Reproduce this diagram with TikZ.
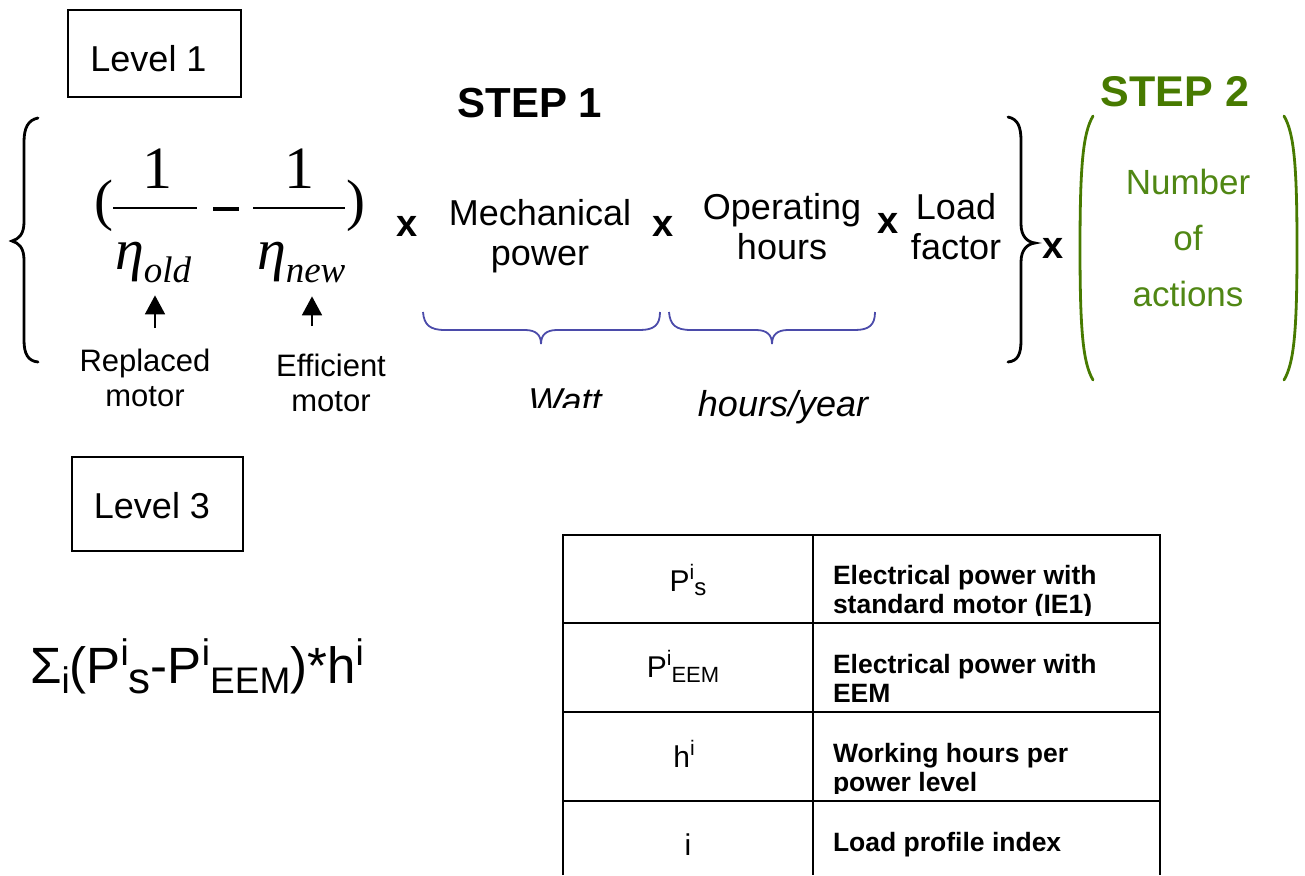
\documentclass[tikz,border=0pt]{standalone}
\usepackage{fontspec}
\setmainfont{Liberation Sans}
\newfontfamily\seriffont{Liberation Serif}
\usetikzlibrary{arrows.meta}
\definecolor{stepgreen}{RGB}{71,122,0}
\definecolor{actgreen}{RGB}{80,135,20}
\definecolor{braceblue}{RGB}{75,75,170}
\newcommand\fsz[2]{\fontsize{#1}{#2}\selectfont}
\newcommand\shiftx[3]{\raisebox{#1}{\fontsize{#2}{#2}\selectfont #3}}
\begin{document}
\begin{tikzpicture}[x=1pt,y=-1pt,
  every node/.style={inner sep=0pt, outer sep=0pt},
  lbl/.style={font=\fsz{36}{40}, align=center},
  smalllbl/.style={font=\fsz{31}{35}, align=center},
  timesx/.style={font=\fsz{38}{40}\bfseries},
  levelbox/.style={draw, line width=1.3pt, font=\fsz{36}{40}, text depth=0pt},
  blackbrace/.style={line width=2.8pt, line cap=round},
  greenparen/.style={draw=stepgreen, line width=2.8pt, line cap=round},
  bluebrace/.style={draw=braceblue, line width=1.8pt},
  uparrow/.style={line width=1.8pt, -{Triangle[width=20pt,length=19pt]}},
  serifbig/.style={font=\seriffont\fsz{60}{60}},
  fracbar/.style={line width=2pt},
  tabline/.style={line width=1.6pt},
  celltext/.style={font=\fsz{26.5}{29}\bfseries, anchor=base west},
  symtext/.style={font=\fsz{30}{32}, anchor=base}
]
\useasboundingbox (0,0) rectangle (1305,875);

% Level boxes
\node[levelbox, minimum width=173pt, minimum height=87pt, text height=35pt] (lev1) at (154.5,53.5) {Level 1\kern12pt};
\node[levelbox, minimum width=171pt, minimum height=94pt, text height=28pt] (lev3) at (157.5,504) {Level 3\kern11pt};

% STEP titles
\node[font=\fsz{42}{46}\bfseries] (step1) at (530,103) {STEP 1};
\node[font=\fsz{43}{46}\bfseries, text=stepgreen] (step2) at (1175,92) {STEP 2};

% big left brace
\draw[blackbrace] (38,118) .. controls (28,120) and (24,128) .. (24,142) -- (24,222)
  .. controls (24,234) and (19,239) .. (12,241) .. controls (19,243) and (24,248) .. (24,260)
  -- (24,340) .. controls (24,354) and (28,361) .. (38,362);
% big right brace
\draw[blackbrace] (1008,117) .. controls (1018,119) and (1021,127) .. (1021,141) -- (1021,224)
  .. controls (1021,236) and (1027,242) .. (1035,243) .. controls (1027,244) and (1021,250) .. (1021,262)
  -- (1021,340) .. controls (1021,354) and (1018,361) .. (1008,362);

% fraction part
\node[serifbig, font=\seriffont\fsz{57}{57}] (lpar) at (104,206) {(};
\node[serifbig, anchor=base] (one1) at (157,188) {1};
\draw[fracbar] (113,208) -- (197,208);
\node[anchor=base west] (etaold) at (115,269) {{\seriffont\itshape\fsz{58}{58}η}\shiftx{-13pt}{37}{\seriffont\itshape old}};
\draw[line width=3.4pt] (213,209) -- (239,209);
\node[serifbig, anchor=base] (one2) at (299,188) {1};
\draw[fracbar] (253,208) -- (345,208);
\node[anchor=base west] (etanew) at (257,269) {{\seriffont\itshape\fsz{58}{58}η}\shiftx{-13pt}{37}{\seriffont\itshape new}};
\node[serifbig, font=\seriffont\fsz{57}{57}] (rpar) at (356,206) {)};

% labels under eta
\node[smalllbl] (repl) at (145,378) {Replaced\\motor};
\node[smalllbl] (effi) at (331,383) {Efficient\\motor};
\coordinate (ax1) at (155,0);
\coordinate (ax2) at (312,0);
\draw[uparrow, shorten <=21pt, shorten >=13pt] (repl.north -| ax1) -- (etaold.south -| ax1);
\draw[uparrow, shorten <=28pt, shorten >=14pt] (effi.north -| ax2) -- (etanew.south -| ax2);

% product terms
\node[timesx] (x1) at (407,226) {x};
\node[lbl] (mech) at (540,236) {Mechanical\\power};
\node[timesx] (x2) at (663,226) {x};
\node[lbl] (oper) at (782,227) {Operating\\hours};
\node[timesx] (x3) at (888,223) {x};
\node[lbl] (load) at (956,227) {Load\\factor};
\node[timesx] (x4) at (1053,248) {x};

% blue underbraces
\draw[bluebrace] (423,312) .. controls (424,325) and (430,330) .. (445,330) -- (525,330)
  .. controls (536,330) and (541,335) .. (541,344) .. controls (541,335) and (546,330) .. (557,330)
  -- (640,330) .. controls (654,330) and (660,325) .. (660,312);
\draw[bluebrace] (669,312) .. controls (670,325) and (676,330) .. (691,330) -- (756,330)
  .. controls (767,330) and (772,335) .. (772,344) .. controls (772,335) and (777,330) .. (788,330)
  -- (855,330) .. controls (869,330) and (875,325) .. (875,312);

% units
\begin{scope}
  \clip (480,370) rectangle (660,407);
  \node[font=\fsz{36}{40}\itshape, anchor=base] (watt) at (565,413) {Watt};
\end{scope}
\node[font=\fsz{36}{40}\itshape, anchor=base] (hpy) at (783,416) {hours/year};

% Step 2 parentheses and text
\draw[greenparen] (1093,116) .. controls (1083,133) and (1080,165) .. (1080,248)
  .. controls (1080,331) and (1083,363) .. (1093,380);
\draw[greenparen] (1284,116) .. controls (1294,133) and (1297,165) .. (1297,248)
  .. controls (1297,331) and (1294,363) .. (1284,380);
\node[font=\fsz{35}{56}, text=actgreen, align=center] (nact) at (1188,238) {Number\\of\\actions};

% Level 3 formula
\node[font=\fsz{51}{55}, anchor=base west] (sumf) at (30,683)
  {Σ\shiftx{-10pt}{37}{i}(P\shiftx{18pt}{37}{i}\shiftx{-10pt}{44}{s}-P\shiftx{18pt}{37}{i}\shiftx{-10pt}{37}{EEM})*h\shiftx{18pt}{37}{i}};

% table
\draw[tabline] (563,875) -- (563,535) -- (1160,535) -- (1160,875);
\draw[tabline] (813,535) -- (813,875);
\draw[tabline] (563,623) -- (1160,623);
\draw[tabline] (563,712) -- (1160,712);
\draw[tabline] (563,801) -- (1160,801);

\node[symtext] (ps) at (688,591) {P\shiftx{12pt}{21}{i}\shiftx{-4pt}{24}{s}};
\node[symtext] (peem) at (683,677) {P\shiftx{12pt}{21}{i}\shiftx{-5pt}{22}{EEM}};
\node[symtext] (hi) at (684,767) {h\shiftx{12pt}{21}{i}};
\node[symtext] (ii) at (688,855) {i};

\begin{scope}
  \clip (815,537) rectangle (1158,615);
  \node[celltext] (d1a) at (833,584) {Electrical power with};
  \node[celltext] (d1b) at (833,613) {standard motor (IE1)};
\end{scope}
\begin{scope}
  \clip (815,625) rectangle (1158,704);
  \node[celltext] (d2a) at (833,673) {Electrical power with};
  \node[celltext] (d2b) at (833,702) {EEM};
\end{scope}
\begin{scope}
  \clip (815,714) rectangle (1158,793);
  \node[celltext] (d3a) at (833,762) {Working hours per};
  \node[celltext] (d3b) at (833,791) {power level};
\end{scope}
\node[celltext] (d4) at (833,851) {Load profile index};
\end{tikzpicture}
\end{document}
